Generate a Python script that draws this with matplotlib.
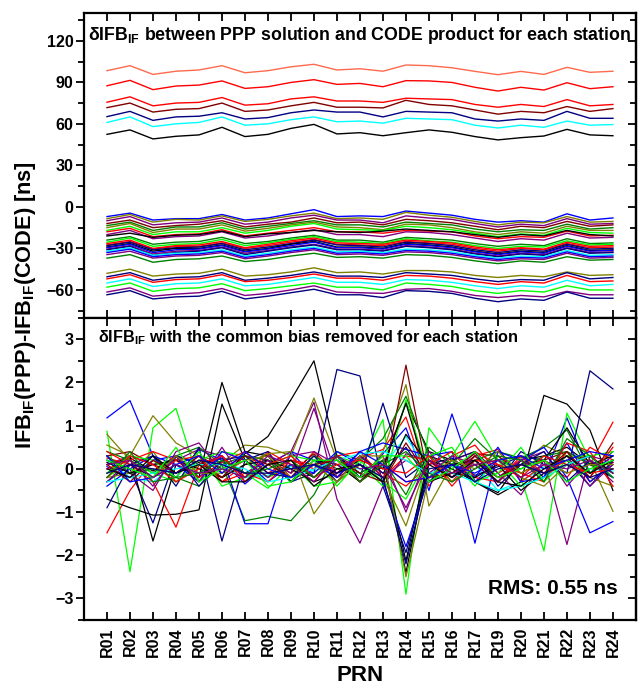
import matplotlib.pyplot as plt
from matplotlib.ticker import MultipleLocator

plt.rcParams['font.family'] = 'Liberation Sans'
plt.rcParams['font.weight'] = 'bold'
plt.rcParams['mathtext.fontset'] = 'custom'
plt.rcParams['mathtext.rm'] = 'Liberation Sans:bold'
plt.rcParams['mathtext.bf'] = 'Liberation Sans:bold'

prn = ['R01', 'R02', 'R03', 'R04', 'R05', 'R06', 'R07', 'R08', 'R09', 'R10', 'R11', 'R12',
       'R13', 'R14', 'R15', 'R16', 'R17', 'R19', 'R20', 'R21', 'R22', 'R23', 'R24']

K = '#000000'; R = '#FF0000'; B = '#0000FF'; G = '#00FF00'; C = '#00FFFF'
P = '#800080'; O = '#808000'; N = '#000080'; W = '#800000'; DG = '#008000'; OR = '#FF6A4D'

# top panel: IFB difference per station (ns)
top_lines = [
    [98.4, 102, 95.7, 98, 98.9, 102, 96.9, 98.4, 101.2, 103, 98.9, 99.8, 98, 102.5, 102, 100.5, 97.9, 95.5, 97.9, 95.7, 100.8, 97.2, 98],
    [87.5, 91.4, 84.7, 87.3, 88, 91, 85.6, 86.8, 89.9, 91.9, 88.5, 89.2, 86.8, 91.2, 91, 89.9, 86.4, 83.7, 86.4, 84.4, 89.7, 85.4, 86.8],
    [75.6, 79.5, 73, 75, 75.5, 79, 73.5, 74.5, 78, 79.5, 76.5, 76.5, 75.5, 78.5, 78, 77.5, 74, 72, 74, 72.5, 77.5, 73, 74],
    [71.7, 75, 68.5, 70.5, 71, 75, 69, 70, 73, 75.5, 72, 72, 71.5, 77, 74, 73, 70, 67, 69, 68, 72.5, 69, 71],
    [65.2, 69, 62.5, 65, 65.5, 68, 63.5, 64.5, 68, 70, 68.5, 68.5, 65, 69, 68.5, 68, 63.5, 62, 63.5, 62.5, 69, 64, 64],
    [61, 65, 58, 60, 61, 65, 59, 60, 63, 65, 61.5, 62, 60.5, 64, 63.5, 63, 59, 57, 59, 57.5, 62, 59, 59.5],
    [52.4, 55.6, 49.1, 51, 52, 57.5, 50.8, 52.4, 56.7, 59.6, 52.7, 53.6, 51.4, 53.6, 55.6, 53.9, 50.8, 48.4, 50, 51.2, 56, 52, 51.4],
    [-7, -4.5, -9.5, -8.5, -8.5, -5.5, -9.5, -8, -5, -2, -7, -6.5, -7, -3, -4.5, -6, -9, -11, -10, -11, -5, -9.5, -8],
    [-8.5, -5.5, -11, -9, -9.5, -6.5, -10.5, -9, -6.5, -4.5, -8.5, -8, -9, -4, -6, -7.5, -10.5, -13, -11, -11.5, -7, -11, -10.5],
    [-10, -7, -13, -11.5, -11, -8, -12.5, -11, -8, -6, -9.5, -9.5, -11.5, -6.5, -8, -9, -12, -14.5, -12.5, -13.5, -8.5, -12.5, -12],
    [-12, -9.5, -15, -13.5, -12.5, -10, -14.5, -12.5, -11, -8, -11.5, -11, -13, -9, -10, -11.5, -14, -16.5, -14, -15, -10.5, -14, -13],
    [-13.5, -11, -17, -14.5, -14.5, -11.5, -16, -14, -12, -10, -13, -13, -14.5, -11, -12, -13, -16, -18, -16.5, -17, -12.5, -16, -15],
    [-15, -12, -18.5, -16, -16, -13, -17.5, -15.5, -13, -11, -14.5, -15, -16.5, -12.5, -13, -15, -18, -20, -18, -19, -14, -17, -17],
    [-17, -14, -20, -18, -18, -15, -19, -17, -14, -12, -16, -16.5, -17, -14, -15, -16.5, -19, -21.5, -19.5, -20.5, -15.5, -18.5, -19],
    [-18, -15.5, -21.5, -20, -19.5, -16.5, -21, -19, -17, -15, -18, -18, -19, -17, -17.5, -18, -21, -23, -21.5, -22, -17.5, -21, -20.5],
    [-20, -17, -23, -21.5, -21, -18, -22.5, -21, -18.5, -16.5, -20, -20, -21.5, -18, -18.5, -20, -22.5, -25, -23, -24, -19, -22.5, -22],
    [-21, -19, -22, -20.5, -20, -17.5, -21.5, -19.5, -18.5, -17, -18, -18.5, -17.5, -16, -17, -18, -20, -22, -20, -21, -17, -20, -21],
    [-24, -21.5, -27, -25.5, -25, -22, -26.5, -25, -22.5, -20.5, -24, -24, -25.5, -22, -23, -24, -26.5, -28.5, -27, -28, -23, -26.5, -26],
    [-25.5, -22.5, -28.5, -27, -26.5, -23.5, -28, -26, -23.5, -21.5, -25, -25.5, -26.5, -23, -24.5, -25.5, -28, -30, -28.5, -29, -24.5, -27.5, -27],
    [-26.5, -24, -30, -28, -27.5, -25, -29.5, -27, -24.5, -22.5, -26, -26.5, -27, -24, -25, -26, -29, -31, -29.5, -30.5, -25.5, -28.5, -28],
    [-27.5, -25, -30.5, -28.5, -28.5, -26, -30, -28, -25.5, -23.5, -27, -27.5, -28, -25, -26, -27, -30, -32, -30, -31, -26.5, -29.5, -29],
    [-28, -25.5, -31, -29.5, -29, -26.5, -31, -29, -26.5, -24, -27.5, -28, -29, -25.5, -26.5, -28, -31, -33, -31, -32, -27, -30.5, -30],
    [-29, -26.5, -32, -30, -30, -27.5, -32, -30, -27, -25, -29, -29, -30, -26.5, -27.5, -29, -32, -34, -32, -33, -28, -31.5, -31],
    [-29.5, -27, -33, -31, -30.5, -28, -32.5, -30.5, -28, -25.5, -29.5, -29.5, -30.5, -27, -28, -29.5, -32.5, -34.5, -32.5, -33.5, -28.5, -32, -31.5],
    [-30.5, -28, -34, -32, -31.5, -29, -33.5, -31.5, -29, -27, -30.5, -30.5, -31.5, -28, -29, -30.5, -33.5, -35.5, -33.5, -34.5, -29.5, -33, -32.5],
    [-31, -28.5, -35, -33, -32, -29.5, -34.5, -32, -29.5, -27.5, -31, -31, -32, -28.5, -29.5, -31, -34, -36, -34, -35, -30, -33.5, -33],
    [-32, -29.5, -35, -33.5, -33, -31, -35.5, -33.5, -31, -29, -32.5, -32, -33, -30.5, -31, -32.5, -35, -37, -35.5, -36, -31.5, -35, -34.5],
    [-33, -30.5, -36, -34.5, -34, -32, -36.5, -34.5, -32, -30, -33.5, -33, -34, -31.5, -32, -33.5, -36, -38, -36.5, -37, -32.5, -36, -35.5],
    [-34.5, -32, -37, -35.5, -35, -33, -37.5, -35.5, -33, -31, -34.5, -34, -35, -32.5, -33, -34.5, -37, -39, -37.5, -38, -33.5, -37, -36.5],
    [-37, -34.5, -40, -38, -37.5, -35.5, -39.5, -38, -35.5, -33.5, -36.5, -36, -37, -34.5, -35, -36.5, -39, -41, -39, -40, -36, -38.5, -38],
    [-48, -45, -50, -48.5, -48, -45, -50, -49, -47, -44, -47.5, -47, -48.5, -46, -46, -47, -49.5, -51, -49.5, -50.5, -47, -49.5, -49],
    [-50.5, -47.5, -53, -51, -50.5, -47.5, -53, -51.5, -49.5, -47, -50, -50, -51, -47.5, -48.5, -49.5, -52, -54, -52.5, -53, -47.5, -52, -51],
    [-52, -49, -54.5, -52.5, -52, -49, -54, -53, -51, -48.5, -51.5, -51.5, -53, -49.5, -50, -51.5, -54, -56, -54, -55, -49.5, -54, -53.5],
    [-55, -52, -57.5, -55.5, -55, -52, -57, -56, -53.5, -51, -54.5, -54.5, -56, -52.5, -53, -54.5, -57, -59, -57, -58, -53, -57, -56],
    [-58, -55, -61, -59, -58.5, -55.5, -60.5, -59, -57, -55, -58, -58, -60, -55, -56, -57.5, -60.5, -62.5, -60.5, -61.5, -57, -60, -60],
    [-61.5, -58.5, -64.5, -63, -62, -59, -64, -62.5, -60, -57, -61.5, -62, -62.5, -59.5, -59, -61, -64, -65.5, -64, -65, -61, -63.5, -63.5],
    [-63.5, -60.5, -66.5, -65, -64.5, -61, -66.5, -64.5, -62, -59.5, -63.5, -63.5, -65.5, -60.5, -61, -62.5, -66, -68.5, -66.5, -67.5, -61.5, -66, -66],
]
top_colors = [OR, R, R, W, N, C, K,
              B, O, P, W, DG, O, G, R, P, K, DG, G, R, R, N, K, B, P, N, C, B, P, DG,
              O, N, R, C, G, P, N]

# bottom panel: IFB difference with the station bias removed (ns)
bot_lines = [
    [0.10, 0.25, -0.05, 0.30, 0.15, -0.20, 0.35, 0.75, 1.60, 2.50, 0.30, -0.20, 0.05, 1.52, 0.40, 0.20, -0.30, -0.55, 0.20, 0.30, 0.50, 0.10, -0.20],
    [-1.48, -0.50, 0.20, -0.10, 0.30, -0.30, 0.10, 0.35, -0.20, 0.40, -0.10, 0.25, 0.45, 1.20, -0.40, 0.30, 0.55, -0.10, 0.20, -0.30, 0.40, 0.10, 1.08],
    [1.18, 1.58, 0.30, -0.20, 0.45, 0.20, -0.35, 0.10, 0.40, -0.20, 0.30, -0.30, 0.35, 0.95, -0.50, 1.27, -0.30, 0.20, 0.30, -0.20, 1.18, -0.10, 0.30],
    [0.87, -2.38, 0.95, 1.40, -0.30, 0.20, -0.10, -0.45, 0.10, -0.20, 0.30, 0.10, 1.14, -2.90, 0.95, 0.20, -0.40, 0.30, -0.20, -1.90, 1.29, 0.20, -0.10],
    [0.20, -0.20, -0.30, 0.10, -0.10, 0.05, -0.20, -0.15, 0.05, -0.05, 0.10, 0.00, 0.05, 0.75, -0.10, 0.05, 0.10, -0.50, -0.30, 0.05, 0.20, 0.00, -0.05],
    [0.10, 0.30, 0.10, 0.20, 0.45, 0.30, -0.20, 0.10, 0.40, 1.54, -0.70, -1.72, -0.40, 0.35, 0.20, -0.20, 0.40, -0.10, -0.60, 0.20, -1.75, 0.30, 0.15],
    [0.55, 0.30, 1.23, 0.60, 0.30, 0.15, 0.55, 0.50, 0.30, 1.64, 0.20, -0.30, 0.40, 1.95, -0.86, 0.10, 0.20, -0.30, 0.10, 0.55, 0.30, 0.20, -0.98],
    [0.20, 0.00, -1.25, 0.30, 0.10, 0.25, -0.10, 0.20, -0.30, -0.10, 2.30, 2.15, -0.40, -1.94, 0.10, 0.25, -0.15, 0.05, 0.30, 0.20, -0.10, 2.27, 1.85],
    [0.30, 0.40, 0.10, -0.10, 0.30, 0.00, 0.30, 0.20, -0.10, 0.35, -0.20, 0.10, -0.30, 2.40, -0.30, 0.00, 0.35, 0.30, -0.10, 0.20, 0.40, -0.30, 0.15],
    [0.40, 0.20, -0.10, 0.30, 0.50, 0.10, -1.20, -1.10, -1.20, -0.60, 0.40, 0.20, 0.70, 1.68, 0.30, -0.10, 0.20, 0.40, 0.25, 0.50, 0.90, -0.10, 0.40],
    [-0.70, -0.90, -1.07, -1.05, -0.95, 1.50, 0.20, -0.20, 0.10, -0.20, 0.30, -0.10, 0.20, -2.40, 0.20, 0.00, -0.30, -0.60, -0.30, 1.70, 1.50, 0.90, -0.50],
    [0.25, 0.10, -0.30, -1.35, 0.10, 0.30, -0.20, 0.40, 0.10, -0.30, 0.30, 0.40, -0.20, 0.30, 0.20, -0.30, 0.30, 0.45, -0.30, 0.10, -0.20, 0.50, 0.20],
    [0.05, -0.20, 0.20, 0.30, -0.20, 0.30, -1.27, -1.27, 0.40, 0.20, -0.10, 0.40, 0.60, 0.45, 0.30, 0.40, -1.72, 0.40, 0.20, 0.50, -0.20, -1.48, -1.22],
    [-0.20, 0.20, -0.10, -0.30, 0.20, 0.40, 0.30, -0.20, 0.10, -0.40, -0.30, 0.10, -0.40, 1.60, -0.20, 0.30, 1.10, 0.20, -0.40, -0.20, 0.30, 0.30, 0.40],
    [-0.30, 0.10, 0.30, -0.40, 0.50, -1.67, 0.20, 0.40, -0.30, 0.10, 0.30, -0.20, 1.52, -0.20, 0.20, -0.20, 0.10, -0.30, 0.40, 0.10, 0.20, -0.40, 0.20],
    [-0.10, 0.30, -1.67, 0.10, -0.20, 2.00, 0.40, 0.30, -0.30, 0.20, 0.10, -0.30, 0.20, -2.13, 0.30, 0.10, 0.20, -0.20, 0.10, 0.20, 0.95, 0.10, 0.30],
    [0.30, -0.10, -0.50, 0.40, 0.60, -0.10, 0.20, -0.20, 0.30, 0.40, 0.10, -0.20, 0.30, -1.00, 0.40, -0.20, 0.30, -0.20, 0.20, 0.40, -0.40, 0.20, -0.30],
    [-0.20, -0.10, 0.40, -0.30, 0.10, -0.20, 0.10, 0.35, 0.40, -1.04, -0.30, 0.10, -0.20, -1.32, 0.30, -0.30, 0.10, 0.20, -0.20, -0.40, 0.10, -0.20, -0.40],
    [0.00, 0.20, 0.40, 0.20, -0.20, 0.15, 0.40, -0.10, 0.20, 0.10, -0.10, 0.30, -0.10, -0.40, 0.10, 0.40, -0.20, -0.30, 0.30, -0.10, 0.20, -0.20, 0.50],
    [0.30, -0.10, 0.00, -0.20, -0.40, 0.10, 0.30, 0.20, -0.30, 0.30, 0.00, -0.10, 0.20, -0.60, 0.50, 0.10, 0.70, 0.20, 0.00, 0.30, 0.40, 0.10, 0.00],
    [-0.40, 0.00, 0.30, 0.10, -0.30, 0.40, 0.20, -0.30, 0.10, -0.10, 0.40, 0.10, -0.30, -1.80, -0.20, 0.10, -0.20, 0.50, -0.30, -0.20, 0.60, -0.30, 0.10],
    [0.15, -0.10, 0.10, 0.20, 0.00, -0.20, 0.10, 0.20, 0.00, -0.30, -0.10, 0.20, 0.00, 1.52, -0.30, -0.10, -0.20, 0.10, -0.50, -0.10, 0.10, 0.30, -0.10],
    [0.40, 0.10, -0.20, 0.20, 0.30, -0.30, -0.10, -0.30, 0.20, 0.00, 0.30, -0.30, 0.10, -0.30, -0.20, 0.20, 0.40, 0.10, -0.10, -0.30, 0.60, 0.40, -0.40],
    [-0.10, 0.30, 0.20, -0.20, 0.40, -0.40, -0.20, 0.10, 0.30, 0.20, -0.40, 0.20, -0.30, -0.70, 0.30, 0.50, -0.30, -0.10, 0.50, -0.30, 0.20, -0.10, 0.20],
    [-0.90, 0.10, -0.20, 0.30, -0.40, 0.20, 0.30, -0.10, -0.20, 0.30, -0.30, 0.30, -0.10, 0.50, -0.30, 0.20, 0.40, -0.40, 0.10, 0.40, -0.30, 0.20, -0.20],
    [-0.30, 0.20, -0.40, 0.30, -0.30, 0.50, -0.30, 0.20, -0.10, 1.40, -0.20, 0.30, -0.20, 0.20, -0.10, 0.30, 0.10, -0.30, 0.20, -0.10, 0.30, -0.40, 0.10],
    [-0.30, -0.20, -0.10, 0.00, 0.10, 0.10, 0.00, -0.30, -0.20, 0.00, 0.20, 0.35, 0.40, 0.20, -0.10, -0.10, -0.30, -0.50, -0.40, -0.20, 0.10, 0.30, -0.20],
    [0.10, -0.30, 0.20, -0.10, 0.20, -0.20, 0.30, 0.10, -0.20, 0.10, 0.20, -0.10, -0.30, 0.60, -0.20, -0.10, 0.30, -0.20, 0.10, -0.10, 0.40, -0.20, 0.60],
    [0.80, 0.20, -0.20, 0.30, -0.10, -0.10, 0.20, 0.30, -0.20, 0.10, -0.30, 0.30, 0.30, -2.50, -0.20, 0.20, 0.00, 0.40, -0.10, 0.20, -0.10, 0.10, 0.10],
    [-0.20, 0.30, 0.10, -0.30, 0.00, 0.30, -0.30, 0.10, 0.30, -0.20, 0.10, 0.20, 0.00, -0.10, 0.30, -0.40, 0.20, 0.10, -0.20, 0.30, 0.10, -0.10, 0.00],
    [0.30, -0.30, -0.20, 0.10, 0.30, -0.10, 0.40, 0.00, -0.20, 0.10, -0.20, 0.40, 0.10, -0.30, -0.20, 0.10, -0.10, 0.20, 0.30, 0.00, 0.20, 0.40, 0.30],
    [-0.20, 0.40, -0.30, -0.20, -0.10, 0.20, -0.10, 0.00, 0.20, -0.20, 0.30, -0.30, 0.10, 0.40, -0.10, -0.30, 0.00, 0.30, 0.20, -0.30, 0.70, 0.30, -0.20],
    [0.00, -0.20, 0.30, -0.10, 0.10, -0.30, -0.30, 0.10, 0.20, -0.40, 0.00, 0.10, -0.30, 0.80, 0.10, -0.20, 0.20, -0.30, -0.40, 0.00, 0.30, -0.10, 0.20],
    [0.20, 0.00, -0.20, 0.50, -0.30, 0.00, 0.20, -0.40, -0.30, 0.20, 0.20, -0.20, 0.30, 0.30, -0.30, 0.00, 0.40, -0.20, 0.00, 0.20, -0.30, 0.00, 0.20],
    [0.10, 0.20, -0.20, 0.10, -0.10, 0.00, -0.20, 0.30, 0.10, -0.30, 0.30, 0.00, 0.10, -0.90, 0.20, -0.10, 0.10, 0.20, -0.20, 0.10, 0.00, 0.20, -0.10],
    [-0.10, 0.10, 0.00, -0.10, 0.20, 0.10, -0.10, -0.10, 0.00, 0.10, -0.10, 0.10, -0.20, -2.20, 0.00, 0.10, -0.30, 0.00, 0.10, -0.10, 0.10, -0.20, 0.00],
]
bot_colors = [K, R, B, G, C, P, O, N, W, DG, K, R, B, G, N, K, P, O, R, DG,
              B, K, R, G, N, P, C, W, O, R, B, DG, K, G, P, N]

x = list(range(1, len(prn) + 1))

fig = plt.figure(figsize=(6.43, 6.89), dpi=100)
ax1 = fig.add_axes([0.1306, 0.539, 0.8584, 0.442])
ax2 = fig.add_axes([0.1306, 0.100, 0.8584, 0.439])

for ys, c in zip(top_lines, top_colors):
    ax1.plot(x, ys, color=c, lw=1.0)
for ys, c in zip(bot_lines, bot_colors):
    ax2.plot(x, ys, color=c, lw=0.9)


def style(ax, ylim, major, minor):
    ax.set_xlim(0, len(prn) + 1)
    ax.set_ylim(*ylim)
    ax.set_xticks(x)
    ax.yaxis.set_major_locator(MultipleLocator(major))
    ax.yaxis.set_minor_locator(MultipleLocator(minor))
    ax.tick_params(axis='y', which='major', direction='out', length=6, width=1.3,
                   labelsize=11.5, pad=1.5)
    ax.tick_params(axis='y', which='minor', direction='out', length=4, width=1.3)
    ax.tick_params(axis='x', direction='in', top=True, bottom=True, length=6, width=1.3)
    for s in ax.spines.values():
        s.set_linewidth(1.6)
    # right side ticks point inward
    sec = ax.secondary_yaxis('right')
    sec.yaxis.set_major_locator(MultipleLocator(major))
    sec.yaxis.set_minor_locator(MultipleLocator(minor))
    sec.tick_params(which='major', direction='in', length=6, width=1.3, labelright=False)
    sec.tick_params(which='minor', direction='in', length=4, width=1.3)
    sec.spines['right'].set_linewidth(1.6)


style(ax1, (-80, 140), 30, 15)
style(ax2, (-3.5, 3.5), 1, 0.5)
ax1.tick_params(axis='x', labelbottom=False)
ax2.set_xticklabels(prn, rotation=90, fontsize=11.5)
ax2.tick_params(axis='x', pad=5)

ax1.text(0.007, 0.928, r'δIFB$_{\mathbf{IF}}$ between PPP solution and CODE product for each station',
         transform=ax1.transAxes, fontsize=12.8, va='center', ha='left')
ax2.text(0.025, 0.933, r'δIFB$_{\mathbf{IF}}$ with the common bias removed for each station',
         transform=ax2.transAxes, fontsize=11.7, va='center', ha='left')
ax2.text(0.967, 0.105, 'RMS: 0.55 ns', transform=ax2.transAxes, fontsize=15,
         va='center', ha='right')

fig.text(0.039, 0.557, r'IFB$_{\mathbf{IF}}$(PPP)-IFB$_{\mathbf{IF}}$(CODE) [ns]',
         rotation=90, fontsize=15.7, va='center', ha='center')
fig.text(0.56, 0.02, 'PRN', fontsize=16, va='center', ha='center')

fig.savefig('out.png', dpi=100)
